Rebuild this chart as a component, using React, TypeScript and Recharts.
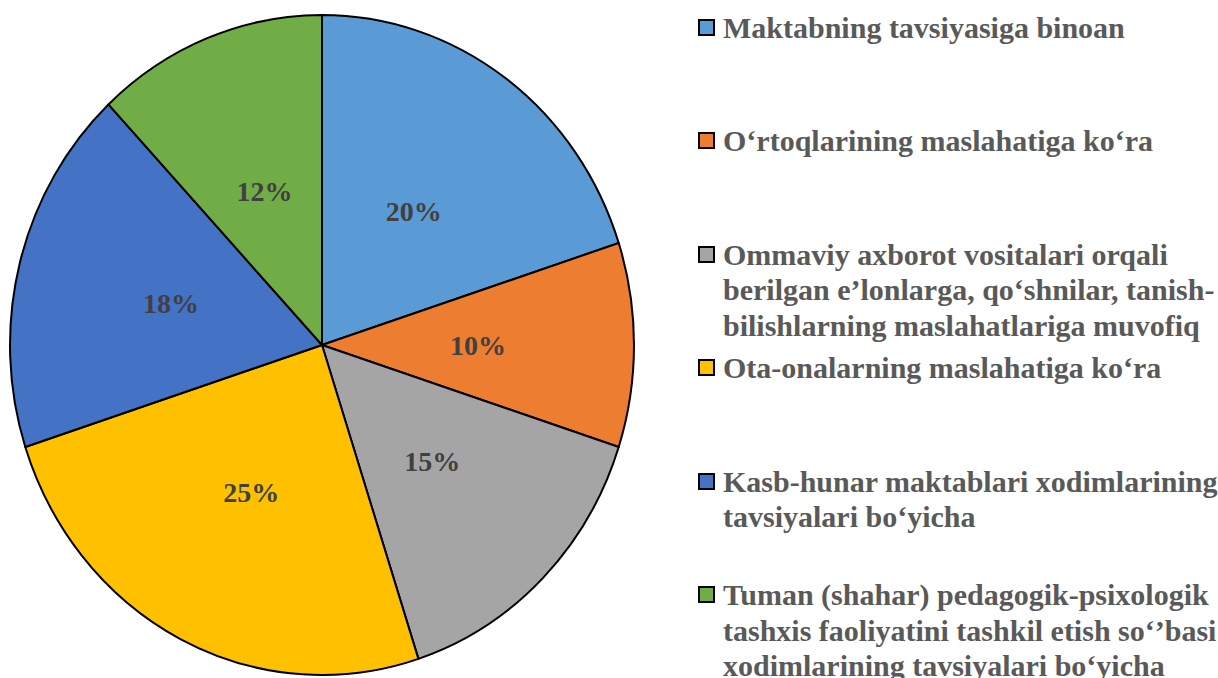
import { PieChart, Pie, Cell, Legend } from 'recharts';

const categories = [
  'Maktabning tavsiyasiga binoan',
  'O‘rtoqlarining maslahatiga ko‘ra',
  'Ommaviy axborot vositalari orqali berilgan e’lonlarga, qo‘shnilar, tanish-bilishlarning maslahatlariga muvofiq',
  'Ota-onalarning maslahatiga ko‘ra',
  'Kasb-hunar maktablari xodimlarining tavsiyalari bo‘yicha',
  'Tuman (shahar) pedagogik-psixologik tashxis faoliyatini tashkil etish so‘’basi xodimlarining tavsiyalari bo‘yicha',
];

// how each legend entry breaks into lines
const legendLines = [
  ['Maktabning tavsiyasiga binoan'],
  ['O‘rtoqlarining maslahatiga ko‘ra'],
  ['Ommaviy axborot vositalari orqali', 'berilgan e’lonlarga, qo‘shnilar, tanish-', 'bilishlarning maslahatlariga muvofiq'],
  ['Ota-onalarning maslahatiga ko‘ra'],
  ['Kasb-hunar maktablari xodimlarining', 'tavsiyalari bo‘yicha'],
  ['Tuman (shahar) pedagogik-psixologik', 'tashxis faoliyatini tashkil etish so‘’basi', 'xodimlarining tavsiyalari bo‘yicha'],
];

const shares = [20, 10, 15, 25, 18, 12];

const colors = ['#5B9BD5', '#ED7D31', '#A5A5A5', '#FFC000', '#4472C4', '#70AD47'];

const FONT = '"Liberation Serif", "Times New Roman", serif';
const RADIAN = Math.PI / 180;
// the original pie is slightly squeezed sideways
const X_SCALE = 312 / 330;

const data = categories.map((name, i) => ({ name, value: shares[i] }));

const EllipseSector = (props: any) => {
  const { cx, cy, outerRadius, startAngle, endAngle, fill, stroke, strokeWidth } = props;
  const rx = outerRadius * X_SCALE;
  const ry = outerRadius;
  const a0 = startAngle * RADIAN;
  const a1 = endAngle * RADIAN;
  const x0 = cx + rx * Math.cos(a0);
  const y0 = cy - ry * Math.sin(a0);
  const x1 = cx + rx * Math.cos(a1);
  const y1 = cy - ry * Math.sin(a1);
  const sweep = endAngle < startAngle ? 1 : 0;
  const large = Math.abs(endAngle - startAngle) > 180 ? 1 : 0;
  const d = `M${cx},${cy} L${x0},${y0} A${rx},${ry} 0 ${large} ${sweep} ${x1},${y1} Z`;
  return <path d={d} fill={fill} stroke={stroke} strokeWidth={strokeWidth} strokeLinejoin="round" />;
};

const renderLabel = (props: any) => {
  const { cx, cy, midAngle, outerRadius, value } = props;
  const r = outerRadius * 0.5;
  const x = cx + r * X_SCALE * Math.cos(-midAngle * RADIAN);
  const y = cy + r * Math.sin(-midAngle * RADIAN);
  return (
    <text
      x={x}
      y={y}
      fill="#404040"
      textAnchor="middle"
      dominantBaseline="central"
      fontFamily={FONT}
      fontWeight="bold"
      fontSize={28}
    >
      {`${value}%`}
    </text>
  );
};

const renderLegend = () => (
  <div style={{ position: 'relative', width: 528, height: 678 }}>
    {legendLines.map((lines, i) => (
      <div
        key={i}
        style={{
          position: 'absolute',
          left: 0,
          top: 10 + i * 113.4,
          fontFamily: FONT,
          fontWeight: 'bold',
          fontSize: 30,
          lineHeight: '35.5px',
          color: '#595959',
          whiteSpace: 'nowrap',
        }}
      >
        <span
          style={{
            position: 'absolute',
            left: 8,
            top: 9,
            width: 13,
            height: 13,
            border: '2px solid #000',
            background: colors[i],
          }}
        />
        {lines.map((line, j) => (
          <div key={j} style={{ paddingLeft: 33 }}>
            {line}
          </div>
        ))}
      </div>
    ))}
  </div>
);

export default function App() {
  return (
    <div style={{ position: 'absolute', left: 0, top: 0, background: '#fff' }}>
      <PieChart width={1218} height={678} margin={{ top: 0, right: 0, bottom: 0, left: 0 }}>
        <Pie
          data={data}
          dataKey="value"
          nameKey="name"
          cx={322}
          cy={345}
          outerRadius={330}
          startAngle={90}
          endAngle={-270}
          stroke="#000"
          strokeWidth={2}
          shape={EllipseSector}
          label={renderLabel}
          labelLine={false}
          isAnimationActive={false}
        >
          {data.map((entry, index) => (
            <Cell key={`cell-${index}`} fill={colors[index]} />
          ))}
        </Pie>
        <Legend
          content={renderLegend}
          wrapperStyle={{ left: 690, top: 0, width: 528, height: 678 }}
        />
      </PieChart>
    </div>
  );
}
